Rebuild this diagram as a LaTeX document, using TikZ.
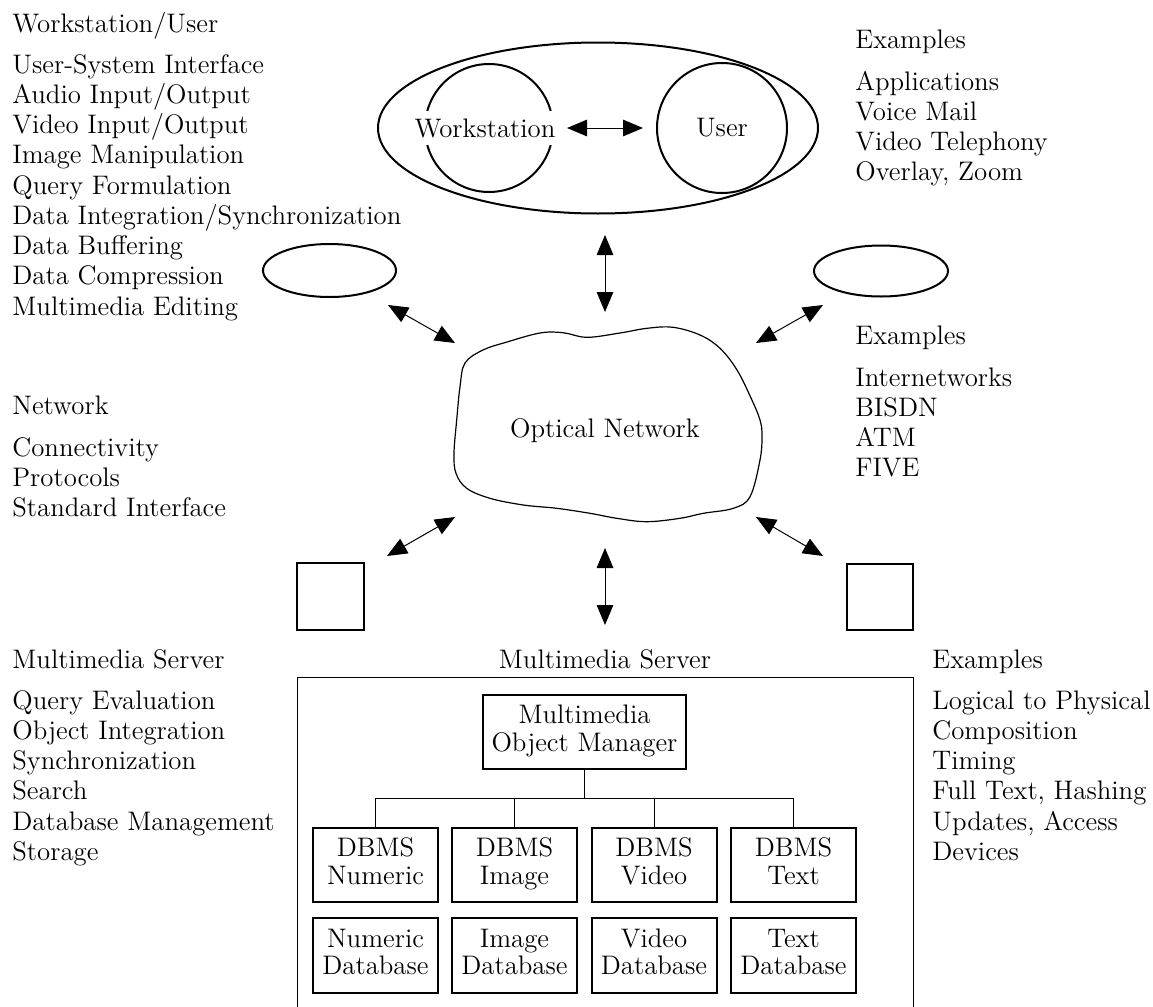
\documentclass[tikz,border=0pt]{standalone}
\usetikzlibrary{arrows.meta,shapes.geometric}
\begin{document}
\begin{tikzpicture}[x=0.5pt,y=-0.5pt,
  every node/.style={font=\fontsize{13.4}{15.125}\selectfont},
  listtext/.style={anchor=base west, inner sep=0pt, align=left},
  ctext/.style={anchor=base, inner sep=0pt},
  ring/.style={draw, line width=1pt, ellipse, inner sep=0pt},
  disc/.style={draw, line width=1pt, circle, inner sep=0pt},
  sqbox/.style={draw, line width=1pt, rectangle, inner sep=0pt},
  dbbox/.style={draw, line width=1pt, rectangle, inner sep=0pt, align=center,
    font=\fontsize{13.4}{13.8}\selectfont},
  biarrow/.style={{Triangle[length=10pt,width=8.3pt]}-{Triangle[length=10pt,width=8.3pt]}, line width=0.5pt},
  cloudline/.style={line width=0.6pt},
  thinline/.style={line width=0.5pt}
]
\useasboundingbox (0,0) rectangle (1153,1007);

% ---------- left column (multi-line nodes sit on their last baseline) ----------
\node[listtext] (wuHead) at (12,32) {Workstation/User};
\node[listtext] (wuList) at (12,315) {User-System Interface\\Audio Input/Output\\Video Input/Output\\Image Manipulation\\Query Formulation\\Data Integration/Synchronization\\Data Buffering\\Data Compression\\Multimedia Editing};

\node[listtext] (netHead) at (12,414) {Network};
\node[listtext] (netList) at (12,516.5) {Connectivity\\Protocols\\Standard Interface};

\node[listtext] (srvHead) at (12,668) {Multimedia Server};
\node[listtext] (srvList) at (12,860.25) {Query Evaluation\\Object Integration\\Synchronization\\Search\\Database Management\\Storage};

% ---------- right column ----------
\node[listtext] (exHeadA) at (855,48) {Examples};
\node[listtext] (exListA) at (855,180.75) {Applications\\Voice Mail\\Video Telephony\\Overlay, Zoom};

\node[listtext] (exHeadB) at (855,344) {Examples};
\node[listtext] (exListB) at (855,476.75) {Internetworks\\BISDN\\ATM\\FIVE};

\node[listtext] (exHeadC) at (932,668) {Examples};
\node[listtext] (exListC) at (932,860.25) {Logical to Physical\\Composition\\Timing\\Full Text, Hashing\\Updates, Access\\Devices};

% ---------- workstation / user ----------
\node[ring, minimum width=220pt, minimum height=85.5pt] (wsu) at (598,128) {};
\node[disc, minimum size=64pt] (wsc) at (489,128) {};
\node[fill=white, inner sep=3.6pt] (ws) at (485,128) {Workstation};
\node[disc, minimum size=65pt] (user) at (722,128) {User};
\draw[biarrow, shorten <=2pt, shorten >=6.5pt] (ws.east) -- (user.west);

% ---------- peripheral stations ----------
\node[ring, minimum width=66.5pt, minimum height=26.5pt] (stL) at (329.5,270.5) {};
\node[ring, minimum width=67pt, minimum height=25.5pt] (stR) at (881,271) {};
\node[sqbox, minimum size=33.5pt] (sqL) at (330.5,596.5) {};
\node[sqbox, minimum size=33pt] (sqR) at (880,596.5) {};

% ---------- optical network ----------
\draw[cloudline] plot[smooth cycle, tension=0.6] coordinates {
  (465,363) (483,350) (507,342) (540,333) (563,332.7) (587,337.3) (620,333)
  (647,328.3) (673,327.3) (700,335) (720,348.3) (737,370) (751,398) (760,420)
  (762,436) (760,460) (750,496.7) (733.3,508.3) (703.3,513.3) (680,518.3)
  (646.7,521.7) (616.7,518.3) (590,513.3) (556.7,508.3) (523.3,505) (490,498.3)
  (466.7,488.3) (456,473.3) (454,453.3) (456.7,420) (460,386.7)};
\node[ctext] (net) at (605,437) {Optical Network};

% connector end points around the network
\coordinate (wsuLow) at (605,235);
\coordinate (netN)   at (605,312);
\coordinate (stLlow) at (388,305);
\coordinate (netNW)  at (455,343);
\coordinate (stRlow) at (823,305);
\coordinate (netNE)  at (756,343);
\coordinate (netSW)  at (455,517);
\coordinate (sqLup)  at (387,556);
\coordinate (netSE)  at (756,517);
\coordinate (sqRup)  at (823,556);
\coordinate (netS)   at (605,548);
\coordinate (srvTop) at (605,625);

\draw[biarrow] (wsuLow) -- (netN);
\draw[biarrow] (stLlow) -- (netNW);
\draw[biarrow] (stRlow) -- (netNE);
\draw[biarrow] (netSW) -- (sqLup);
\draw[biarrow] (netSE) -- (sqRup);
\draw[biarrow] (netS) -- (srvTop);

% ---------- multimedia server ----------
\node[ctext] (srvTitle) at (605,668) {Multimedia Server};
\draw[thinline] (297,1020) |- (913,677) -- (913,1020);

\node[dbbox, minimum width=101.5pt, minimum height=37pt] (mom) at (584.5,732) {\strut Multimedia\\Object Manager\strut};

\node[dbbox, minimum width=62.5pt, minimum height=37pt] (d1) at (375.5,865) {\strut DBMS\\Numeric\strut};
\node[dbbox, minimum width=62.5pt, minimum height=37pt] (d2) at (514.5,865) {\strut DBMS\\Image\strut};
\node[dbbox, minimum width=62.5pt, minimum height=37pt] (d3) at (654,865) {\strut DBMS\\Video\strut};
\node[dbbox, minimum width=62.5pt, minimum height=37pt] (d4) at (793.5,865) {\strut DBMS\\Text\strut};

\node[dbbox, minimum width=62.5pt, minimum height=37.5pt] (b1) at (375.5,955.5) {\strut Numeric\\Database\strut};
\node[dbbox, minimum width=62.5pt, minimum height=37.5pt] (b2) at (514.5,955.5) {\strut Image\\Database\strut};
\node[dbbox, minimum width=62.5pt, minimum height=37.5pt] (b3) at (654,955.5) {\strut Video\\Database\strut};
\node[dbbox, minimum width=62.5pt, minimum height=37.5pt] (b4) at (793.5,955.5) {\strut Text\\Database\strut};

% distribution bus from the object manager to the DBMS boxes
\coordinate (bus) at (584.5,798);
\draw[thinline] (mom.south) -- (bus);
\draw[thinline] (d1.north) -- (d1.north |- bus) -- (d4.north |- bus) -- (d4.north);
\draw[thinline] (d2.north) -- (d2.north |- bus);
\draw[thinline] (d3.north) -- (d3.north |- bus);

\end{tikzpicture}
\end{document}
